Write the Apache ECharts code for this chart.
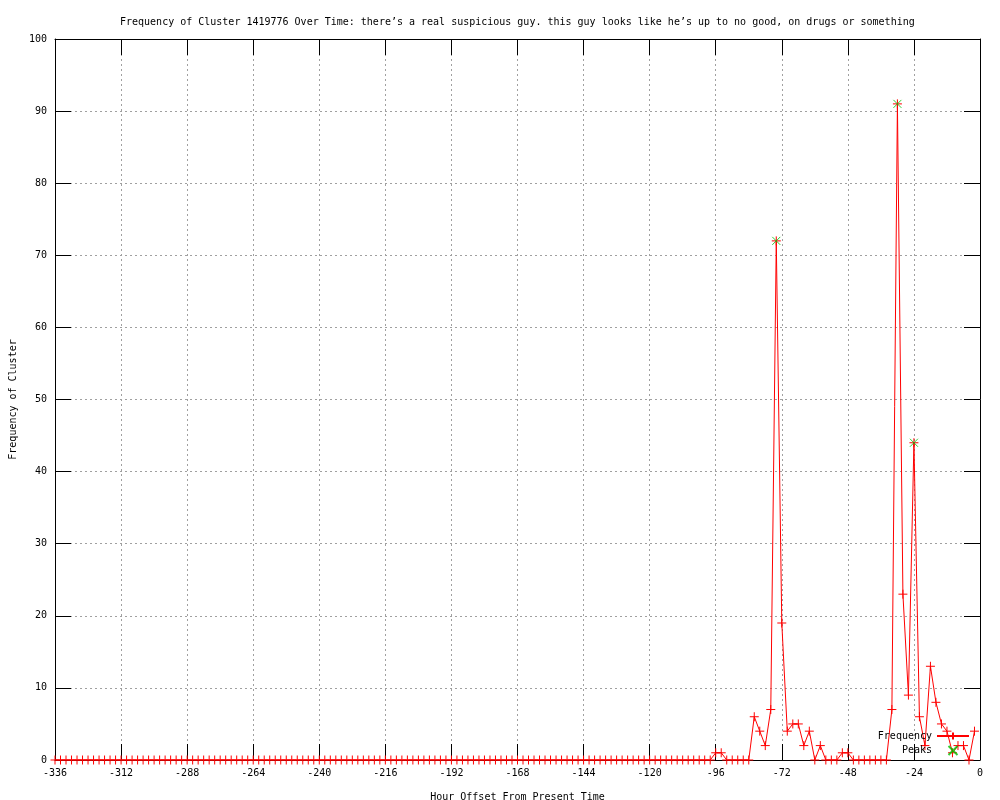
<!DOCTYPE html>
<html>
<head>
<meta charset="utf-8">
<script src="https://cdn.jsdelivr.net/npm/echarts@6/dist/echarts.min.js"></script>
<style>
  html, body { margin: 0; padding: 0; background: #fff; }
  #main { width: 1000px; height: 800px; }
</style>
</head>
<body>
<div id="main"></div>
<script>
  // hour offsets, one point every 2 hours
  var hours = [
    -336,-334,-332,-330,-328,-326,-324,-322,-320,-318,-316,-314,
    -312,-310,-308,-306,-304,-302,-300,-298,-296,-294,-292,-290,
    -288,-286,-284,-282,-280,-278,-276,-274,-272,-270,-268,-266,
    -264,-262,-260,-258,-256,-254,-252,-250,-248,-246,-244,-242,
    -240,-238,-236,-234,-232,-230,-228,-226,-224,-222,-220,-218,
    -216,-214,-212,-210,-208,-206,-204,-202,-200,-198,-196,-194,
    -192,-190,-188,-186,-184,-182,-180,-178,-176,-174,-172,-170,
    -168,-166,-164,-162,-160,-158,-156,-154,-152,-150,-148,-146,
    -144,-142,-140,-138,-136,-134,-132,-130,-128,-126,-124,-122,
    -120,-118,-116,-114,-112,-110,-108,-106,-104,-102,-100,-98,
    -96,-94,-92,-90,-88,-86,-84,-82,-80,-78,-76,-74,
    -72,-70,-68,-66,-64,-62,-60,-58,-56,-54,-52,-50,
    -48,-46,-44,-42,-40,-38,-36,-34,-32,-30,-28,-26,
    -24,-22,-20,-18,-16,-14,-12,-10,-8,-6,-4,-2
  ]
  var frequency = [
    0,0,0,0,0,0,0,0,0,0,0,0,
    0,0,0,0,0,0,0,0,0,0,0,0,
    0,0,0,0,0,0,0,0,0,0,0,0,
    0,0,0,0,0,0,0,0,0,0,0,0,
    0,0,0,0,0,0,0,0,0,0,0,0,
    0,0,0,0,0,0,0,0,0,0,0,0,
    0,0,0,0,0,0,0,0,0,0,0,0,
    0,0,0,0,0,0,0,0,0,0,0,0,
    0,0,0,0,0,0,0,0,0,0,0,0,
    0,0,0,0,0,0,0,0,0,0,0,0,
    1,1,0,0,0,0,0,6,4,2,7,72,
    19,4,5,5,2,4,0,2,0,0,0,1,
    1,0,0,0,0,0,0,0,7,91,23,9,
    44,6,2,13,8,5,4,1,2,2,0,4
  ]
  var peakHours = [-74, -30, -24]
  var peakValues = [72, 91, 44]

  var xTicks = {min: -336, max: 0, interval: 24}
  var yTicks = {min: 0, max: 100, interval: 10}

  var font = 'DejaVu Sans Mono'
  var plus = 'path://M0,5L10,5M5,0L5,10'
  var cross = 'path://M0,0L10,10M10,0L0,10'

  var freqData = hours.map(function (h, i) { return [h, frequency[i]] })
  var peakData = peakHours.map(function (h, i) { return [h, peakValues[i]] })

  var tick = {show: true, inside: true, length: 16, lineStyle: {color: '#000', width: 1}}
  var line = {show: true, onZero: false, lineStyle: {color: '#000', width: 1}}

  var myChart = echarts.init(document.getElementById('main'))
  myChart.setOption({
    animation: false,
    backgroundColor: '#fff',
    title: {
      text: 'Frequency of Cluster 1419776 Over Time: there\u2019s a real suspicious guy. this guy looks like he\u2019s up to no good, on drugs or something',
      left: 115,
      top: 12,
      textStyle: {fontFamily: font, fontSize: 10, fontWeight: 'normal', color: '#000'}
    },
    grid: {left: 55, right: 20, top: 39, bottom: 40, outerBoundsMode: 'none', containLabel: false},
    legend: {
      orient: 'vertical',
      right: 25,
      top: 726,
      align: 'right',
      itemWidth: 32,
      itemHeight: 9,
      itemGap: 4,
      textStyle: {fontFamily: font, fontSize: 10, color: '#000'},
      data: ['Frequency', 'Peaks']
    },
    xAxis: [
      {
        type: 'value',
        min: xTicks.min, max: xTicks.max, interval: xTicks.interval,
        name: 'Hour Offset From Present Time',
        nameLocation: 'middle',
        nameGap: 32,
        nameTextStyle: {fontFamily: font, fontSize: 10, color: '#000'},
        axisLine: line,
        axisTick: tick,
        axisLabel: {fontFamily: font, fontSize: 10, color: '#000', margin: 8},
        splitLine: {show: true, lineStyle: {color: '#a0a0a0', type: [2, 3]}}
      },
      {
        type: 'value', position: 'top',
        min: xTicks.min, max: xTicks.max, interval: xTicks.interval,
        axisLine: line,
        axisTick: tick,
        axisLabel: {show: false},
        splitLine: {show: false}
      }
    ],
    yAxis: [
      {
        type: 'value', position: 'left',
        min: yTicks.min, max: yTicks.max, interval: yTicks.interval,
        name: 'Frequency of Cluster',
        nameLocation: 'middle',
        nameGap: 37,
        nameTextStyle: {fontFamily: font, fontSize: 10, color: '#000'},
        axisLine: line,
        axisTick: tick,
        axisLabel: {fontFamily: font, fontSize: 10, color: '#000', margin: 8},
        splitLine: {show: true, lineStyle: {color: '#a0a0a0', type: [2, 3]}}
      },
      {
        type: 'value', position: 'right',
        min: yTicks.min, max: yTicks.max, interval: yTicks.interval,
        axisLine: line,
        axisTick: tick,
        axisLabel: {show: false},
        splitLine: {show: false}
      }
    ],
    series: [
      {
        name: 'Frequency',
        type: 'line',
        data: freqData,
        symbol: plus,
        symbolSize: 9,
        showAllSymbol: true,
        lineStyle: {color: '#ff0000', width: 1},
        itemStyle: {color: '#ff0000', borderColor: '#ff0000', borderWidth: 1}
      },
      {
        name: 'Peaks',
        type: 'scatter',
        data: peakData,
        symbol: cross,
        symbolSize: 8,
        z: 5,
        itemStyle: {color: '#00c000', borderColor: '#00c000', borderWidth: 1}
      }
    ]
  })
</script>
</body>
</html>
